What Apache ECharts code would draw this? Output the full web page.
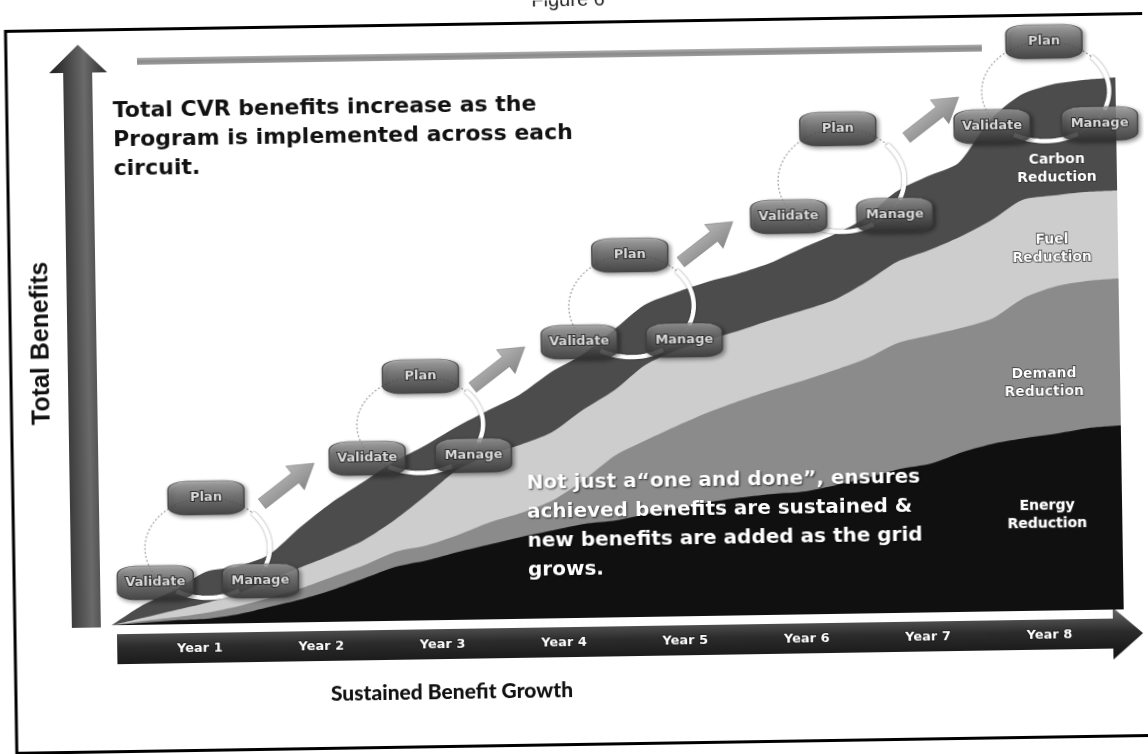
<!DOCTYPE html>
<html>
<head>
<meta charset="utf-8">
<title>Sustained Benefit Growth</title>
<script src="https://cdn.jsdelivr.net/npm/echarts@6/dist/echarts.min.js"></script>
<style>
  html, body { margin: 0; padding: 0; background: #fff; overflow: hidden; }
  #wrap { width: 1148px; height: 754px; transform: rotate(-0.9deg); transform-origin: 574px 377px; }
  #chart { width: 1148px; height: 754px; }
</style>
</head>
<body>
<div id="wrap"><div id="chart"></div></div>
<script>
// Year positions (years since start) where the benefit layers are sampled
const T = [0, 0.25, 0.5, 0.75, 1, 1.25, 1.5, 1.75, 2, 2.25, 2.5, 2.75, 3, 3.25, 3.5, 3.75,
           4, 4.25, 4.5, 4.75, 5, 5.25, 5.5, 5.75, 6, 6.25, 6.5, 6.75, 7, 7.25, 7.5, 7.75, 8];

// Benefit layers (relative units), bottom to top
const ENERGY = [0, 2, 4, 5, 9, 16, 23, 32, 43, 54, 60, 68, 75, 82, 88, 94, 97, 103, 108, 114,
                118, 121, 123, 129, 136, 144, 149, 160, 168, 173, 177, 182, 184];
const DEMAND = [0, 2, 3, 6, 8, 9, 11, 13, 13, 15, 15, 17, 22, 24, 30, 44, 65, 74, 83, 90,
                97, 104, 111, 115, 119, 126, 128, 124, 125, 140, 147, 147, 147];
const FUEL   = [0, 3, 7, 10, 13, 18, 21, 22, 25, 32, 50, 65, 67, 68, 68, 70, 65, 75, 75, 72,
                70, 70, 70, 70, 76, 81, 85, 91, 98, 98, 91, 89, 88];
const CARBON = [0, 13, 20, 31, 27, 25, 40, 52, 58, 58, 50, 43, 45, 50, 60, 55, 60, 60, 58, 58,
                57, 57, 62, 65, 64, 70, 74, 74, 100, 105, 111, 112, 113];

const LAYER_NAMES = ['Energy\nReduction', 'Demand\nReduction', 'Fuel\nReduction', 'Carbon\nReduction'];
const YEARS = ['Year 1', 'Year 2', 'Year 3', 'Year 4', 'Year 5', 'Year 6', 'Year 7', 'Year 8'];

// Plan / Validate / Manage cycle steps, [year, benefit level]
const VALIDATE_PTS = [[0.35, 42], [2.04, 163], [3.73, 276], [5.40, 398], [7.02, 485]];
const MANAGE_PTS   = [[1.18, 42], [2.88, 164], [4.56, 276], [6.24, 398], [7.87, 486]];
const PLAN_PTS     = [[0.76, 126], [2.47, 244], [4.14, 362], [5.80, 485], [7.44, 569]];
// Hand-off arrows between one cycle and the next
const ARROW_PTS    = [[1.41, 139], [3.09, 252], [4.75, 374], [6.55, 495]];

const TOP_NOTE = 'Total CVR benefits increase as the\nProgram is implemented across each\ncircuit.';
const BODY_NOTE = 'Not just a\u201Cone and done\u201D, ensures\nachieved benefits are sustained &\nnew benefits are added as the grid\ngrows.';

const LAYER_COLORS = ['#101010', '#8b8b8b', '#cdcdcd', '#4c4c4c'];
const LAYERS = [ENERGY, DEMAND, FUEL, CARBON];

const chart = echarts.init(document.getElementById('chart'), null, { renderer: 'canvas' });
const G = echarts.graphic;

// Running totals: each layer's upper edge sits on the sum of the layers beneath it
const totals = [];
let running = T.map(() => 0);
LAYERS.forEach(vals => {
  running = running.map((r, k) => r + vals[k]);
  totals.push(running);
});

// Paint from the top layer down so each lower band covers the one above it
const areaSeries = [3, 2, 1, 0].map(i => ({
  name: LAYER_NAMES[i].replace('\n', ' '),
  type: 'line',
  xAxisIndex: 0, yAxisIndex: 0,
  data: T.map((t, k) => [t, totals[i][k]]),
  smooth: 0.25,
  showSymbol: false,
  silent: true,
  z: 1,
  lineStyle: { width: 0 },
  areaStyle: { color: LAYER_COLORS[i], opacity: 1, origin: 'start' }
}));

// Dotted cycle ring through Validate -> Plan -> Manage
function ellipsePts(cx, cy, rx, ry, a0, a1, n) {
  const pts = [];
  for (let i = 0; i <= n; i++) {
    const a = a0 + (a1 - a0) * i / n;
    pts.push([cx + rx * Math.cos(a), cy + ry * Math.sin(a)]);
  }
  return pts;
}
const ringSeries = {
  type: 'custom',
  xAxisIndex: 0, yAxisIndex: 0,
  silent: true,
  z: 3,
  data: VALIDATE_PTS.map((v, i) => [v[0], v[1], MANAGE_PTS[i][0], MANAGE_PTS[i][1], PLAN_PTS[i][0], PLAN_PTS[i][1]]),
  renderItem: function (params, api) {
    const v = api.coord([api.value(0), api.value(1)]);
    const m = api.coord([api.value(2), api.value(3)]);
    const p = api.coord([api.value(4), api.value(5)]);
    const cx = (v[0] + m[0]) / 2;
    const rx = (m[0] - v[0]) / 2 + 10;
    const bottom = (v[1] + m[1]) / 2 + 16;
    const cy = (p[1] + bottom) / 2;
    const ry = (bottom - p[1]) / 2;
    return {
      type: 'group',
      children: [
        { type: 'polyline', shape: { points: ellipsePts(cx, cy, rx, ry, 0, Math.PI * 2, 80) },
          style: { fill: 'none', stroke: '#a0a0a0', lineWidth: 1.2, lineDash: [2, 2] } },
        { type: 'polyline', shape: { points: ellipsePts(cx, cy, rx, ry, -0.75, 0.4, 24) },
          style: { fill: 'none', stroke: '#ffffff', lineWidth: 4.5, shadowBlur: 2, shadowColor: 'rgba(0,0,0,0.5)' } },
        { type: 'polyline', shape: { points: ellipsePts(cx, cy, rx, ry, 1.05, 2.1, 20) },
          style: { fill: 'none', stroke: '#ffffff', lineWidth: 4.5, shadowBlur: 2, shadowColor: 'rgba(0,0,0,0.5)' } }
      ]
    };
  }
};

const arrowSeries = {
  type: 'scatter',
  xAxisIndex: 0, yAxisIndex: 0,
  data: ARROW_PTS,
  clip: false,
  silent: true,
  z: 4,
  symbol: 'path://M0,9 L42,9 L42,0 L66,15 L42,30 L42,21 L0,21 Z',
  symbolSize: [66, 30],
  symbolRotate: 37,
  itemStyle: {
    color: new G.LinearGradient(0, 0, 0, 1, [
      { offset: 0, color: '#a4a4a4' }, { offset: 1, color: '#6a6a6a' }
    ]),
    borderColor: '#777', borderWidth: 0.6
  }
};

function boxSeries(name, pts, size) {
  return {
    name: name,
    type: 'scatter',
    xAxisIndex: 0, yAxisIndex: 0,
    data: pts,
    clip: false,
    silent: true,
    z: 5,
    symbol: 'roundRect',
    symbolSize: size,
    itemStyle: {
      color: new G.LinearGradient(0, 0, 0, 1, [
        { offset: 0, color: '#a6a6a6' }, { offset: 0.4, color: '#6c6c6c' }, { offset: 1, color: '#303030' }
      ]),
      borderColor: '#3c3c3c', borderWidth: 1,
      shadowBlur: 4, shadowColor: 'rgba(0,0,0,0.5)', shadowOffsetX: 2, shadowOffsetY: 2
    },
    label: {
      show: true, position: 'inside', formatter: name,
      color: '#ffffff', fontFamily: 'DejaVu Sans', fontWeight: 'bold', fontSize: 13,
      textBorderColor: '#222', textBorderWidth: 2
    }
  };
}

const whiteLabel = {
  fill: '#ffffff', fontFamily: 'DejaVu Sans', fontWeight: 'bold', fontSize: 14,
  lineHeight: 18, align: 'center', verticalAlign: 'middle',
  stroke: '#333', lineWidth: 1.5
};

const option = {
  animation: false,
  backgroundColor: '#ffffff',
  grid: [
    { left: 108, right: 28, top: 18, bottom: 136 },
    { left: 135, right: 42, top: 600, bottom: 111 }
  ],
  xAxis: [
    { type: 'value', gridIndex: 0, min: 0, max: 8, show: false },
    { type: 'category', gridIndex: 1, data: YEARS, boundaryGap: true, z: 50,
      axisLine: { show: false }, axisTick: { show: false }, splitLine: { show: false },
      axisLabel: { margin: 0, verticalAlign: 'middle', color: '#ffffff', fontFamily: 'DejaVu Sans',
                   fontWeight: 'bold', fontSize: 13, textBorderColor: '#1a1a1a', textBorderWidth: 1.5 } }
  ],
  yAxis: [
    { type: 'value', gridIndex: 0, min: 0, max: 600, show: false },
    { type: 'value', gridIndex: 1, min: 0, max: 1, show: false }
  ],
  series: [
    ...areaSeries,
    ringSeries,
    arrowSeries,
    boxSeries('Validate', VALIDATE_PTS, [76, 34]),
    boxSeries('Manage', MANAGE_PTS, [76, 34]),
    boxSeries('Plan', PLAN_PTS, [76, 34])
  ],
  graphic: [
    { type: 'text', x: 574, y: 0, z: 10,
      style: { text: 'Figure 6', fill: '#222', fontFamily: 'Liberation Sans', fontSize: 20,
               align: 'center', verticalAlign: 'middle' } },
    { type: 'rect', z: 10, shape: { x: 11, y: 22.5, width: 1160, height: 722 },
      style: { fill: 'none', stroke: '#000', lineWidth: 3 } },
    { type: 'rect', z: 10, shape: { x: 142, y: 51, width: 845, height: 7 },
      style: { fill: new G.LinearGradient(0, 0, 0, 1, [
        { offset: 0, color: '#b0b0b0' }, { offset: 0.5, color: '#8a8a8a' }, { offset: 1, color: '#9c9c9c' }]) } },
    { type: 'polygon', z: 10,
      shape: { points: [[68, 620], [68, 65], [54, 65], [83, 37], [112, 65], [97, 65], [97, 620]] },
      style: { fill: new G.LinearGradient(0, 0, 1, 0, [
        { offset: 0, color: '#1c1c1c' }, { offset: 0.6, color: '#6a6a6a' }, { offset: 1, color: '#2e2e2e' }]) } },
    { type: 'polygon', z: 0,
      shape: { points: [[113, 627], [1109, 627], [1109, 616], [1139, 642], [1109, 668], [1109, 657], [113, 657]] },
      style: { fill: new G.LinearGradient(0, 0, 0, 1, [
        { offset: 0, color: '#6a6a6a' }, { offset: 0.45, color: '#2c2c2c' }, { offset: 1, color: '#111111' }]) } },
    { type: 'text', x: 42, y: 335, rotation: Math.PI / 2, z: 10,
      style: { text: 'Total Benefits', fill: '#111', fontFamily: 'Liberation Sans', fontWeight: 'bold',
               fontSize: 25, align: 'center', verticalAlign: 'middle' } },
    { type: 'text', x: 117, y: 90, z: 10,
      style: { text: TOP_NOTE, fill: '#111', fontFamily: 'DejaVu Sans', fontWeight: 'bold',
               fontSize: 22, lineHeight: 29, align: 'left', verticalAlign: 'top' } },
    { type: 'text', x: 525, y: 468, z: 10,
      style: { text: BODY_NOTE, fill: '#ffffff', fontFamily: 'DejaVu Sans', fontWeight: 'bold',
               fontSize: 20, lineHeight: 29, align: 'left', verticalAlign: 'top',
               textShadowColor: 'rgba(0,0,0,0.7)', textShadowBlur: 2, textShadowOffsetX: 1, textShadowOffsetY: 1 } },
    { type: 'text', x: 1060, y: 176, z: 10, style: Object.assign({ text: LAYER_NAMES[3] }, whiteLabel) },
    { type: 'text', x: 1054, y: 256, z: 10, style: Object.assign({ text: LAYER_NAMES[2] }, whiteLabel) },
    { type: 'text', x: 1044, y: 390, z: 10, style: Object.assign({ text: LAYER_NAMES[1] }, whiteLabel) },
    { type: 'text', x: 1045, y: 522, z: 10, style: Object.assign({ text: LAYER_NAMES[0] }, whiteLabel) },
    { type: 'text', x: 447, y: 690, z: 10,
      style: { text: 'Sustained Benefit Growth', fill: '#111', fontFamily: 'Lato', fontWeight: 900,
               fontSize: 21, align: 'center', verticalAlign: 'middle' } }
  ]
};

chart.setOption(option);
</script>
</body>
</html>
